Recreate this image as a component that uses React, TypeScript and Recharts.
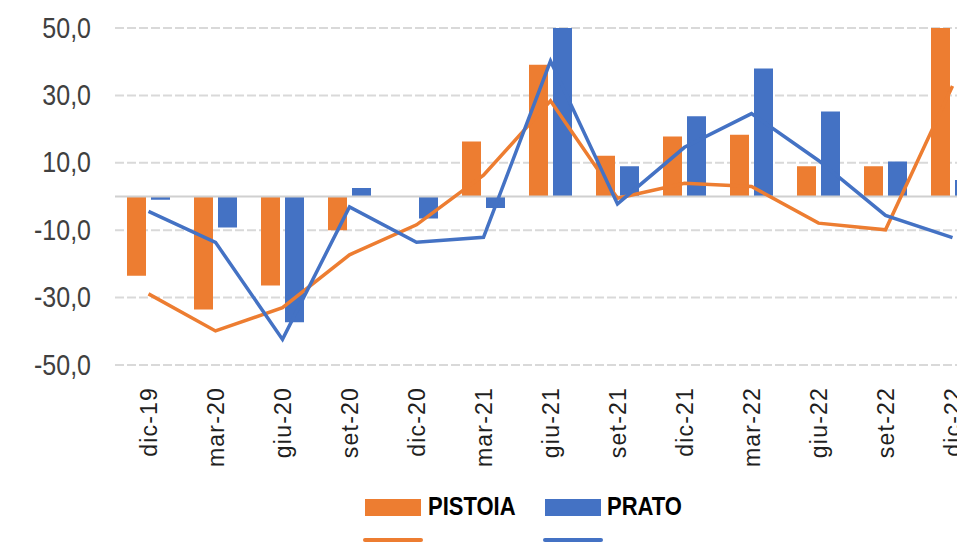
import React from 'react';
import {
  ComposedChart,
  Bar,
  Line,
  XAxis,
  YAxis,
  CartesianGrid,
  ReferenceLine,
} from 'recharts';

const categories = ['dic-19', 'mar-20', 'giu-20', 'set-20', 'dic-20', 'mar-21', 'giu-21', 'set-21', 'dic-21', 'mar-22', 'giu-22', 'set-22', 'dic-22'];
const pistoiaBars = [-23.5, -33.5, -26.4, -10.0, 0, 16.3, 39.1, 12.1, 17.8, 18.3, 9.0, 9.0, 50];
const pratoBars = [-1.0, -9.2, -37.3, 2.5, -6.5, -3.4, 50, 9.0, 23.8, 38.0, 25.2, 10.4, 4.9];
const pistoiaLine = [-28.9, -39.9, -33.0, -17.3, -8.4, 6.3, 28.4, -0.5, 3.9, 3.0, -7.9, -9.9, 32.8];
const pratoLine = [-4.4, -13.6, -42.4, -3.1, -13.6, -12.1, 40.2, -2.2, 14.6, 24.6, 10.7, -5.6, -12.2];
const yTicks = [-50, -30, -10, 10, 30, 50];

const ORANGE = '#ED7D31';
const BLUE = '#4472C4';

const data = categories.map((name, i) => ({
  name,
  pistoiaBar: pistoiaBars[i],
  pratoBar: pratoBars[i],
  pistoiaLine: pistoiaLine[i],
  pratoLine: pratoLine[i],
}));

const fmt = (v: number) => v.toFixed(1).replace('.', ',');

const YTick = ({ x, y, payload }: any) => (
  <g transform={`translate(${x},${y}) scale(1,1.15)`}>
    <text
      textAnchor="end"
      dominantBaseline="central"
      fontFamily="'Liberation Sans', Arial, sans-serif"
      fontSize={25}
      fill="#404040"
    >
      {fmt(payload.value)}
    </text>
  </g>
);

const XTick = ({ x, y, payload }: any) => (
  <g transform={`translate(${x},${y + 22})`}>
    <text
      transform="rotate(-90)"
      textAnchor="end"
      dy="0.36em"
      fontFamily="'Liberation Sans', Arial, sans-serif"
      fontSize={23}
      letterSpacing={1.2}
      fill="#1f1f1f"
    >
      {payload.value}
    </text>
  </g>
);

const legendText: React.CSSProperties = {
  position: 'absolute',
  fontFamily: "'Liberation Sans Narrow', 'Liberation Sans', Arial, sans-serif",
  fontWeight: 'bold',
  fontSize: 22,
  lineHeight: '22px',
  color: '#000',
  top: 496,
  transform: 'scaleY(1.15)',
};

export default function App() {
  return (
    <div
      style={{
        position: 'absolute',
        left: 0,
        top: 0,
        width: 957,
        height: 545,
        overflow: 'hidden',
        background: '#fff',
      }}
    >
      <ComposedChart
        width={1000}
        height={545}
        data={data}
        margin={{ top: 28, right: 14, bottom: 70, left: 0 }}
        barSize={19}
        barGap={5}
      >
        <CartesianGrid
          horizontal
          vertical={false}
          stroke="#d9d9d9"
          strokeWidth={2}
          strokeDasharray="9 3"
        />
        <XAxis
          dataKey="name"
          height={110}
          interval={0}
          axisLine={false}
          tickLine={false}
          tickSize={0}
          tickMargin={0}
          tick={<XTick />}
        />
        <YAxis
          width={115}
          domain={[-50, 50]}
          ticks={yTicks}
          allowDataOverflow
          axisLine={false}
          tickLine={false}
          tickSize={0}
          tickMargin={24}
          tick={<YTick />}
        />
        <ReferenceLine y={0} stroke="#d0d0d0" strokeWidth={2} />
        <Bar dataKey="pistoiaBar" fill={ORANGE} isAnimationActive={false} />
        <Bar dataKey="pratoBar" fill={BLUE} isAnimationActive={false} />
        <Line
          type="linear"
          dataKey="pistoiaLine"
          stroke={ORANGE}
          strokeWidth={3.5}
          dot={false}
          isAnimationActive={false}
        />
        <Line
          type="linear"
          dataKey="pratoLine"
          stroke={BLUE}
          strokeWidth={3.5}
          dot={false}
          isAnimationActive={false}
        />
      </ComposedChart>
      <div style={{ position: 'absolute', left: 365, top: 499, width: 56, height: 17, background: ORANGE }} />
      <div style={{ ...legendText, left: 428 }}>PISTOIA</div>
      <div style={{ position: 'absolute', left: 545, top: 499, width: 56, height: 17, background: BLUE }} />
      <div style={{ ...legendText, left: 607 }}>PRATO</div>
      <div style={{ position: 'absolute', left: 363, top: 538, width: 60, height: 4, borderRadius: 2, background: ORANGE }} />
      <div style={{ position: 'absolute', left: 543, top: 538, width: 60, height: 4, borderRadius: 2, background: BLUE }} />
    </div>
  );
}
